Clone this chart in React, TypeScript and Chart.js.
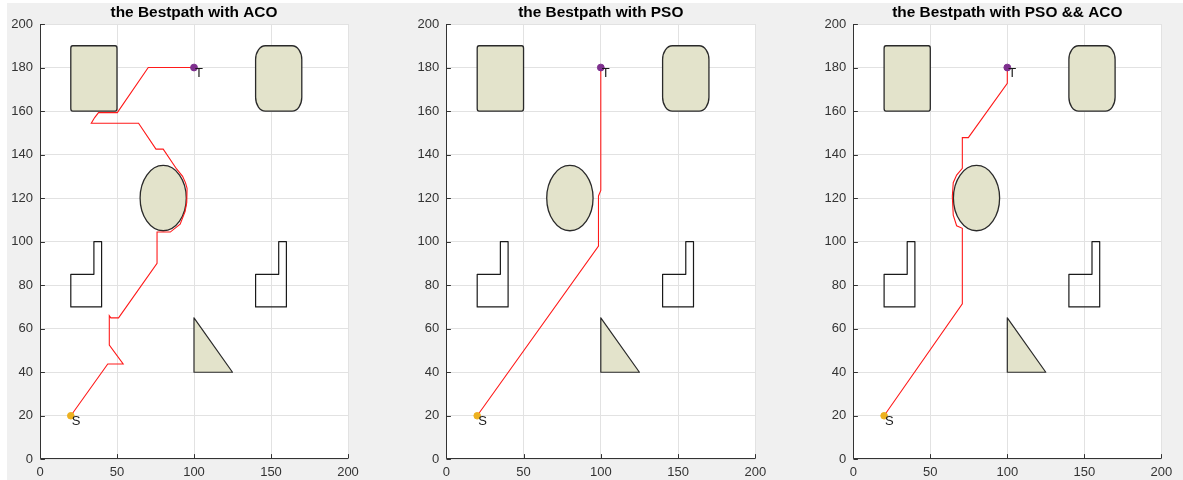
import React, { useEffect, useRef } from "react";
import { Chart, registerables } from "chart.js";

Chart.register(...registerables);
Chart.defaults.font.family = "'Liberation Sans', Arial, Helvetica, sans-serif";

// ---------- data ----------
const panelTitles = ["the Bestpath with ACO", "the Bestpath with PSO", "the Bestpath with PSO && ACO"];

const xTickStep = 50;
const yTickStep = 20;
const axisMin = 0;
const axisMax = 200;

// ACO best path
const acoX = [20, 44, 54, 45, 45, 46, 51, 76, 76, 84.6, 91, 94.2, 95.3, 95.5, 94.5, 92.6, 88.7, 80, 75.3, 64, 33.3, 35.5, 38, 50.2, 70.3, 100];
const acoY = [20, 43.8, 43.8, 52.5, 66, 65, 65, 90, 104.4, 104.4, 108, 113.8, 118, 124.5, 127, 130, 133.4, 142.5, 142.5, 154.4, 154.4, 157, 159.3, 159.3, 180, 180];

// PSO best path
const psoX = [20, 98.5, 98.5, 100, 100];
const psoY = [20, 98, 121, 123.5, 180];

// PSO && ACO best path
const hybridX = [20, 70.8, 70.8, 67.1, 64.9, 64.3, 64.9, 67.1, 70.8, 70.8, 74.7, 100, 100];
const hybridY = [20, 71.4, 106.1, 107.3, 112.2, 120.7, 127.1, 130.6, 133.7, 147.8, 147.8, 172.7, 180];

const pathXs = [acoX, psoX, hybridX];
const pathYs = [acoY, psoY, hybridY];

const startXY = [20, 20];
const targetXY = [100, 180];
const pointLabels = ["S", "T"];

// obstacles (data units)
const rectX = [20, 140];
const rectY = [160, 160];
const rectW = [30, 30];
const rectH = [30, 30];
const rectCurv = [0.08, 0.42];

const circleX = [80];
const circleY = [120];
const circleR = [15];

const triX = [100, 125, 100];
const triY = [40, 40, 65];

const lShapeX = [
  [20, 40, 40, 35, 35, 20],
  [140, 160, 160, 155, 155, 140],
];
const lShapeY = [
  [70, 70, 100, 100, 85, 85],
  [70, 70, 100, 100, 85, 85],
];

// ---------- layout (pixels) ----------
const canvasLeft = [0, 406, 813];
const canvasW = 370;
const canvasH = 480;
const plotLeft = [40, 446.3, 853.3];
const plotRight = [348, 755.3, 1161.3];
const plotTop = 24;
const plotBottom = 459.3;

const fillColor = "#e3e3cb";
const edgeColor = "#2a2a2a";

function makePlugin(idx: number) {
  return {
    id: "matlabDecor" + idx,
    beforeDraw(chart: any) {
      const { ctx, chartArea } = chart;
      ctx.save();
      ctx.fillStyle = "#ffffff";
      ctx.fillRect(chartArea.left, chartArea.top, chartArea.right - chartArea.left, chartArea.bottom - chartArea.top);
      ctx.restore();
    },
    beforeDatasetsDraw(chart: any) {
      const { ctx } = chart;
      const sx = chart.scales.x;
      const sy = chart.scales.y;
      const px = (v: number) => sx.getPixelForValue(v);
      const py = (v: number) => sy.getPixelForValue(v);
      ctx.save();
      ctx.lineJoin = "round";
      // rounded rectangles
      for (let i = 0; i < rectX.length; i++) {
        const x0 = px(rectX[i]);
        const x1 = px(rectX[i] + rectW[i]);
        const y0 = py(rectY[i] + rectH[i]);
        const y1 = py(rectY[i]);
        const rx = Math.abs(px(rectX[i] + (rectCurv[i] * rectW[i]) / 2) - x0);
        const ry = Math.abs(py(rectY[i] + (rectCurv[i] * rectH[i]) / 2) - y1);
        ctx.beginPath();
        ctx.moveTo(x0 + rx, y0);
        ctx.lineTo(x1 - rx, y0);
        ctx.ellipse(x1 - rx, y0 + ry, rx, ry, 0, -Math.PI / 2, 0);
        ctx.lineTo(x1, y1 - ry);
        ctx.ellipse(x1 - rx, y1 - ry, rx, ry, 0, 0, Math.PI / 2);
        ctx.lineTo(x0 + rx, y1);
        ctx.ellipse(x0 + rx, y1 - ry, rx, ry, 0, Math.PI / 2, Math.PI);
        ctx.lineTo(x0, y0 + ry);
        ctx.ellipse(x0 + rx, y0 + ry, rx, ry, 0, Math.PI, Math.PI * 1.5);
        ctx.closePath();
        ctx.fillStyle = fillColor;
        ctx.fill();
        ctx.strokeStyle = edgeColor;
        ctx.lineWidth = 1.3;
        ctx.stroke();
      }
      // circle (ellipse in pixels)
      for (let i = 0; i < circleX.length; i++) {
        const cx = px(circleX[i]);
        const cy = py(circleY[i]);
        const rx = Math.abs(px(circleX[i] + circleR[i]) - cx);
        const ry = Math.abs(py(circleY[i] + circleR[i]) - cy);
        ctx.beginPath();
        ctx.ellipse(cx, cy, rx, ry, 0, 0, Math.PI * 2);
        ctx.fillStyle = fillColor;
        ctx.fill();
        ctx.strokeStyle = edgeColor;
        ctx.lineWidth = 1.3;
        ctx.stroke();
      }
      // triangle
      ctx.beginPath();
      for (let i = 0; i < triX.length; i++) {
        if (i === 0) ctx.moveTo(px(triX[i]), py(triY[i]));
        else ctx.lineTo(px(triX[i]), py(triY[i]));
      }
      ctx.closePath();
      ctx.fillStyle = fillColor;
      ctx.fill();
      ctx.strokeStyle = edgeColor;
      ctx.lineWidth = 1.2;
      ctx.stroke();
      // L shapes (outline only)
      for (let k = 0; k < lShapeX.length; k++) {
        ctx.beginPath();
        for (let i = 0; i < lShapeX[k].length; i++) {
          if (i === 0) ctx.moveTo(px(lShapeX[k][i]), py(lShapeY[k][i]));
          else ctx.lineTo(px(lShapeX[k][i]), py(lShapeY[k][i]));
        }
        ctx.closePath();
        ctx.strokeStyle = "#1a1a1a";
        ctx.lineWidth = 1.2;
        ctx.stroke();
      }
      ctx.restore();
    },
    afterDatasetsDraw(chart: any) {
      const { ctx, chartArea } = chart;
      const sx = chart.scales.x;
      const sy = chart.scales.y;
      ctx.save();
      // S / T labels
      ctx.font = "13px 'Liberation Sans', Arial, sans-serif";
      ctx.fillStyle = "#1a1a1a";
      ctx.textAlign = "left";
      ctx.textBaseline = "alphabetic";
      const pts = [startXY, targetXY];
      for (let i = 0; i < pts.length; i++) {
        const x = sx.getPixelForValue(pts[i][0]);
        const y = sy.getPixelForValue(pts[i][1]);
        ctx.fillText(pointLabels[i], x + 1, y + 9.3);
      }
      // axes lines and inward ticks
      ctx.strokeStyle = "#333333";
      ctx.lineWidth = 1;
      const L = Math.round(chartArea.left) + 0.5;
      const B = Math.round(chartArea.bottom) - 0.5;
      ctx.beginPath();
      ctx.moveTo(L, chartArea.top);
      ctx.lineTo(L, B);
      ctx.lineTo(chartArea.right, B);
      const tl = 4.4;
      for (let v = axisMin; v <= axisMax; v += xTickStep) {
        const x = Math.round(sx.getPixelForValue(v)) + 0.5;
        ctx.moveTo(x, B);
        ctx.lineTo(x, B - tl);
      }
      for (let v = axisMin; v <= axisMax; v += yTickStep) {
        const y = Math.round(sy.getPixelForValue(v)) + 0.5;
        ctx.moveTo(L, y);
        ctx.lineTo(L + tl, y);
      }
      ctx.stroke();
      ctx.restore();
    },
    afterDraw(chart: any) {
      const { ctx } = chart;
      const cx = (plotLeft[idx] + plotRight[idx]) / 2 - canvasLeft[idx];
      ctx.save();
      ctx.translate(cx, 17.4);
      ctx.scale(1.1, 1);
      ctx.font = "bold 14px 'Liberation Sans', Arial, sans-serif";
      ctx.fillStyle = "#000000";
      ctx.textAlign = "center";
      ctx.textBaseline = "alphabetic";
      ctx.fillText(panelTitles[idx], 0, 0);
      ctx.restore();
    },
  };
}

function Panel({ idx }: { idx: number }) {
  const ref = useRef<HTMLCanvasElement | null>(null);
  useEffect(() => {
    if (!ref.current) return;
    const xs = pathXs[idx];
    const ys = pathYs[idx];
    const yAxisW = plotLeft[idx] - canvasLeft[idx];
    const padRight = canvasLeft[idx] + canvasW - plotRight[idx];
    const xAxisH = canvasH - plotBottom;
    const chart = new Chart(ref.current, {
      type: "scatter",
      data: {
        datasets: [
          {
            data: [{ x: targetXY[0], y: targetXY[1] }],
            pointRadius: 3.4,
            pointHoverRadius: 3.4,
            backgroundColor: "#7E2F8E",
            borderColor: "#7E2F8E",
            borderWidth: 1,
          },
          {
            data: [{ x: startXY[0], y: startXY[1] }],
            pointRadius: 3.3,
            pointHoverRadius: 3.3,
            backgroundColor: "#EDB120",
            borderColor: "#EDB120",
            borderWidth: 1,
          },
          {
            data: xs.map((x, i) => ({ x, y: ys[i] })),
            showLine: true,
            borderColor: "#ff1a1a",
            borderWidth: 1.1,
            pointRadius: 0,
            pointHoverRadius: 0,
            fill: false,
            tension: 0,
          },
        ],
      } as any,
      options: {
        animation: false,
        responsive: false,
        events: [],
        layout: { padding: { left: 0, right: padRight, top: plotTop, bottom: 0 } },
        plugins: {
          legend: { display: false },
          title: { display: false },
          tooltip: { enabled: false },
        },
        scales: {
          x: {
            type: "linear",
            min: axisMin,
            max: axisMax,
            ticks: {
              stepSize: xTickStep,
              color: "#333333",
              font: { size: 13 },
              padding: 5,
              maxRotation: 0,
              autoSkip: false,
            },
            grid: { color: "#e2e2e2", lineWidth: 1, drawTicks: false },
            border: { display: false },
            afterFit: (s: any) => {
              s.height = xAxisH;
            },
          },
          y: {
            type: "linear",
            min: axisMin,
            max: axisMax,
            ticks: {
              stepSize: yTickStep,
              color: "#333333",
              font: { size: 13 },
              padding: 7,
              autoSkip: false,
            },
            grid: { color: "#e2e2e2", lineWidth: 1, drawTicks: false },
            border: { display: false },
            afterFit: (s: any) => {
              s.width = yAxisW;
            },
          },
        },
      } as any,
      plugins: [makePlugin(idx)],
    });
    return () => chart.destroy();
  }, [idx]);
  return (
    <canvas
      ref={ref}
      width={canvasW}
      height={canvasH}
      style={{ position: "absolute", left: canvasLeft[idx], top: 0, width: canvasW, height: canvasH }}
    />
  );
}

export default function App() {
  useEffect(() => {
    document.body.style.margin = "0";
  }, []);
  return (
    <div style={{ position: "relative", width: 1183, height: 480, background: "#ffffff", overflow: "hidden" }}>
      <div style={{ position: "absolute", left: 7, top: 3, right: 0, bottom: 0, background: "#f0f0f0" }} />
      <Panel idx={0} />
      <Panel idx={1} />
      <Panel idx={2} />
    </div>
  );
}
